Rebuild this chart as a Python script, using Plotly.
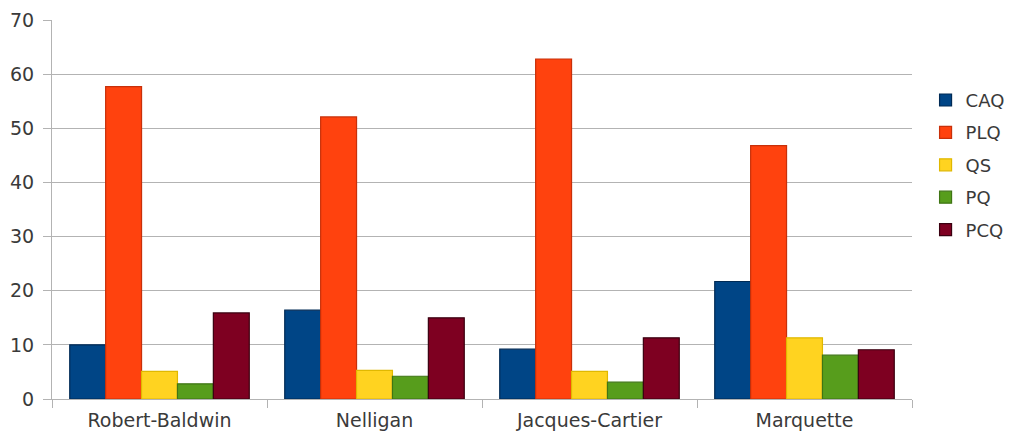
import plotly.graph_objects as go

ridings = ["Robert-Baldwin", "Nelligan", "Jacques-Cartier", "Marquette"]
caq = [10.0, 16.4, 9.2, 21.7]
plq = [57.7, 52.1, 62.8, 46.8]
qs = [5.1, 5.3, 5.1, 11.3]
pq = [2.8, 4.2, 3.1, 8.1]
pcq = [15.9, 15.0, 11.3, 9.1]

series = [
    ("CAQ", caq, "#004586", "#002a55"),
    ("PLQ", plq, "#ff420e", "#c8300a"),
    ("QS", qs, "#ffd320", "#e0b800"),
    ("PQ", pq, "#579d1c", "#3f7514"),
    ("PCQ", pcq, "#7e0021", "#3a0010"),
]

FONT = "DejaVu Sans, Verdana, sans-serif"
TXT = "#3a3a3a"
FS = 19

fig = go.Figure()
for name, vals, col, edge in series:
    fig.add_trace(go.Bar(
        name=name, x=ridings, y=vals,
        marker=dict(color=col, line=dict(color=edge, width=1.2)),
        legendgroup=name,
    ))

fig.update_layout(
    width=1005, height=426,
    margin=dict(l=44, r=101, t=12, b=35),
    paper_bgcolor="white", plot_bgcolor="white",
    barmode="group", bargap=0.165, bargroupgap=0,
    font=dict(family=FONT, size=FS, color=TXT),
    legend=dict(xref="container", x=0.913, xanchor="left", y=0.837, yanchor="top",
                tracegroupgap=6, font=dict(family=FONT, size=18, color=TXT),
                itemwidth=30),
    showlegend=True,
)
fig.update_yaxes(
    range=[0, 70], dtick=10, showgrid=True, gridcolor="#b3b3b3", gridwidth=1,
    showline=True, linecolor="#b3b3b3", linewidth=1,
    ticks="outside", ticklen=8, tickcolor="#b3b3b3", zeroline=False,
    tickfont=dict(family=FONT, size=FS, color=TXT),
    automargin=False, ticklabelstandoff=5,
)
fig.update_xaxes(
    showline=True, linecolor="#b3b3b3", linewidth=1,
    ticks="outside", tickson="boundaries", ticklen=8, tickcolor="#b3b3b3",
    showgrid=False, tickfont=dict(family=FONT, size=FS, color=TXT),
    automargin=False, ticklabelstandoff=4,
)

fig.write_html("out.html")
